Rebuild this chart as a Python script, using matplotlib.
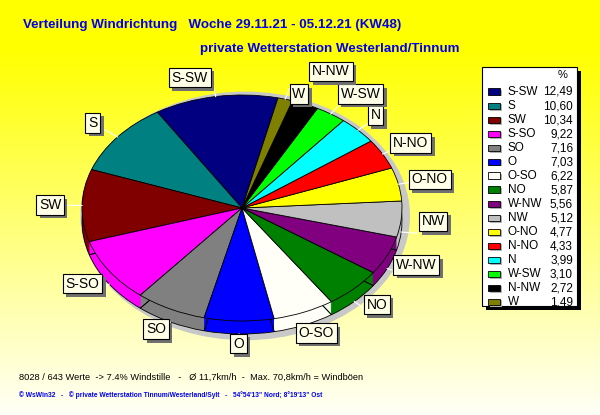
import numpy as np
import matplotlib.pyplot as plt
import matplotlib.patheffects as pe
from matplotlib.patches import Rectangle, Ellipse

plt.rcParams['font.family'] = ['Liberation Sans', 'DejaVu Sans']

# wind direction distribution (legend order, drawn counterclockwise)
directions = ['S-SW', 'S', 'SW', 'S-SO', 'SO', 'O', 'O-SO', 'NO',
              'W-NW', 'NW', 'O-NO', 'N-NO', 'N', 'W-SW', 'N-NW', 'W']
percent = [12.49, 10.60, 10.34, 9.22, 7.16, 7.03, 6.22, 5.87,
           5.56, 5.12, 4.77, 4.33, 3.99, 3.10, 2.72, 1.49]
colors = ['#000080', '#008080', '#800000', '#FF00FF', '#808080', '#0000FF',
          '#FFFFF8', '#008000', '#800080', '#C0C0C0', '#FFFF00', '#FF0000',
          '#00FFFF', '#00FF00', '#000000', '#808000']

title1 = 'Verteilung Windrichtung   Woche 29.11.21 - 05.12.21 (KW48)'
title2 = 'private Wetterstation Westerland/Tinnum'
info = '8028 / 643 Werte  -> 7.4% Windstille   -   Ø 11,7km/h  -  Max. 70,8km/h = Windböen'
copy = '© WsWin32   -   © private Wetterstation Tinnum/Westerland/Sylt   -   54°54\'13" Nord; 8°19\'13" Ost'

start = 77
depth = 0.115
# label placement tweaks (radius, angle shift) where boxes would collide
label_adj = {'W': (1.07, -3.8), 'N-NW': (1.33, -1.5), 'W-SW': (1.25, -2.6),
             'S-SW': (1.2, 6.3), 'N': (1.17, 1.0)}

fig = plt.figure(figsize=(6, 4.15), dpi=100)

# background gradient yellow -> pale cream
bg = fig.add_axes([0, 0, 1, 1])
grad = np.clip((np.linspace(0, 1, 256) - 0.12) * 1.1, 0, 1)
img = np.zeros((256, 1, 3))
img[:, 0, 0] = 1
img[:, 0, 1] = 1
img[:, 0, 2] = grad
bg.imshow(img, aspect='auto', extent=[0, 600, 415, 0])
bg.set_xlim(0, 600)
bg.set_ylim(415, 0)
bg.axis('off')

# pie axes: 160 px per unit in x, 113 px per unit in y
cx, cy = 242, 415 - 208
ax = fig.add_axes([(cx - 240) / 600, (cy - 169.5) / 415, 480 / 600, 339 / 415])
ax.add_patch(Ellipse((0.02, -0.07), 2.06, 2.2, color='#C8C8C8', lw=0))
for d in np.linspace(depth, 0.005, 14):
    ax.pie(percent, colors=colors, startangle=start, center=(0, -d),
           wedgeprops=dict(linewidth=0))
ax.pie(percent, colors=colors, startangle=start, center=(0, -depth),
       wedgeprops=dict(linewidth=0.6, edgecolor='black', fill=False))
ax.pie(percent, colors=colors, startangle=start,
       wedgeprops=dict(linewidth=0.6, edgecolor='black'))
ax.set_aspect('auto')
ax.set_xlim(-1.5, 1.5)
ax.set_ylim(-1.5, 1.5)
ax.axis('off')

cum = np.cumsum([0] + percent)
for i, name in enumerate(directions):
    mid_deg = start + (cum[i] + cum[i + 1]) / 2 * 3.6
    mid = np.radians(mid_deg)
    c, s = np.cos(mid), np.sin(mid)
    off = -depth if s < 0 else 0
    ax.plot([1.0 * c, 1.1 * c], [1.0 * s + off, 1.1 * s + off], color='white', lw=0.8)
    r, dth = label_adj.get(name, (1.2, 0))
    lab = np.radians(mid_deg + dth)
    x, y = r * np.cos(lab), r * np.sin(lab)
    t = ax.text(x, y, name, ha='center', va='center', fontsize=10, color='black',
                bbox=dict(boxstyle='square,pad=0.2', fc='#FFFFE8', ec='black', lw=0.8))
    t.get_bbox_patch().set_path_effects([
        pe.SimplePatchShadow(offset=(2.5, -2.5), shadow_rgbFace='#707070', alpha=1),
        pe.Normal()])

# legend box
bg.add_patch(Rectangle((486, 71), 95, 239, color='black', lw=0))
bg.add_patch(Rectangle((482, 67), 95, 239, fc='white', ec='black', lw=0.8))
bg.text(563, 75, '%', ha='center', va='center', fontsize=8)
for i, (name, p, col) in enumerate(zip(directions, percent, colors)):
    y = 92 + i * 14
    bg.add_patch(Rectangle((490, y - 2), 12, 6.5, color='#B0B0B0', lw=0))
    bg.add_patch(Rectangle((488, y - 3.5), 12, 6.5, fc=col, ec='black', lw=0.6))
    bg.text(508, y, name, ha='left', va='center', fontsize=8.5)
    bg.text(573, y, f'{p:.2f}'.replace('.', ','), ha='right', va='center', fontsize=8.5)

# titles and footer
bg.text(23, 25, title1, ha='left', va='center', fontsize=9.6, fontweight='bold', color='#0000EE')
bg.text(200, 49, title2, ha='left', va='center', fontsize=9.6, fontweight='bold', color='#0000EE')
bg.text(19, 377, info, ha='left', va='center', fontsize=6.7)
bg.text(19, 395, copy, ha='left', va='center', fontsize=4.8, fontweight='bold', color='#0000EE')

fig.savefig('out.png', dpi=100)
